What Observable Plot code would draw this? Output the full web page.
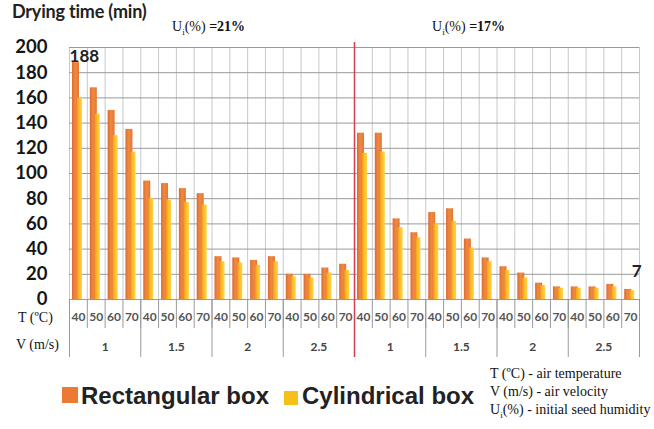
<!DOCTYPE html>
<html>
<head>
<meta charset="utf-8">
<script src="https://cdn.jsdelivr.net/npm/d3@7"></script>
<script src="https://cdn.jsdelivr.net/npm/@observablehq/plot@0.6"></script>
<style>
  html, body { margin: 0; padding: 0; background: #fff; }
  #wrap { position: relative; width: 654px; height: 429px; overflow: hidden; }
  #wrap svg { position: absolute; left: 0; top: 0; }
  .abs { position: absolute; white-space: nowrap; }
  .serif { font-family: "Liberation Serif", "DejaVu Serif", serif; font-size: 14px; line-height: 14px; color: #111; }
  .serif sub { font-size: 9px; vertical-align: -4px; line-height: 0; }
  .title { font-family: Lato, "Open Sans", sans-serif; font-weight: 700; font-size: 18px; line-height: 18px; color: #222; letter-spacing: -0.2px; }
  .leg { font-family: "Liberation Sans", Arial, sans-serif; font-weight: 700; font-size: 24px; line-height: 24px; color: #222; }
  .sq { position: absolute; }
</style>
</head>
<body>
<div id="wrap"></div>
<script>
// ---- data ----
const humidities = ["21%", "17%"];
const velocities = ["1", "1.5", "2", "2.5"];
const temperatures = ["40", "50", "60", "70"];
const yTicks = [0, 20, 40, 60, 80, 100, 120, 140, 160, 180, 200];
// drying time (min), order: humidity > velocity > temperature
const rectangular = [188, 168, 150, 135, 94, 92, 88, 84, 34, 33, 31, 34, 20, 20, 25, 28,
                     132, 132, 64, 53, 69, 72, 48, 33, 26, 21, 13, 10, 10, 10, 12, 8];
const cylindrical = [160, 147, 130, 117, 80, 79, 77, 75, 30, 29, 27, 30, 18, 17, 21, 23,
                     116, 117, 57, 49, 60, 62, 41, 30, 23, 17, 11, 9, 9, 9, 10, 7];

const nGroups = humidities.length * velocities.length * temperatures.length;
const data = rectangular.map((r, i) => ({
  i,
  humidity: humidities[Math.floor(i / 16)],
  velocity: velocities[Math.floor(i / 4) % 4],
  temperature: temperatures[i % 4],
  rect: r,
  cyl: cylindrical[i]
}));
const boundaries = d3.range(nGroups + 1);
const velBoundaries = boundaries.filter(d => d % 4 === 0);
const tempCenters = d3.range(nGroups).map(d => d + 0.5);
const velCenters = d3.range(nGroups / 4).map(d => d * 4 + 2);

const chart = Plot.plot({
  width: 654,
  height: 362,
  marginLeft: 69,
  marginRight: 15,
  marginTop: 47,
  marginBottom: 63,
  style: { background: "transparent", overflow: "visible" },
  x: { domain: [0, nGroups], axis: null },
  y: { domain: [0, 200], axis: null },
  marks: [
    Plot.gridX(boundaries, { stroke: "#c9c9c9", strokeOpacity: 1 }),
    Plot.gridY(yTicks, { stroke: "#9a9a9a", strokeOpacity: 1 }),
    Plot.rectY(data, { x1: "i", x2: d => d.i + 1, y: "rect", insetLeft: 3, insetRight: 7.8, fill: "url(#gRect)" }),
    Plot.rectY(data, { x1: "i", x2: d => d.i + 1, y: "cyl", insetLeft: 8, insetRight: 4.8, fill: "url(#gCyl)" }),
    Plot.axisY({ ticks: yTicks, tickSize: 0, tickPadding: 22, fontSize: 18.5, fontWeight: "bold", fill: "#151515", label: null, fontFamily: "Lato, sans-serif" }),
    Plot.axisX({ ticks: boundaries, tickSize: 29, tickFormat: () => "", stroke: "#9a9a9a", label: null }),
    Plot.axisX({ ticks: velBoundaries, tickSize: 58, tickFormat: () => "", stroke: "#9a9a9a", label: null }),
    Plot.axisX({ ticks: tempCenters, tickSize: 0, tickPadding: 13, tickFormat: d => temperatures[Math.floor(d) % 4], fontSize: 12, fontWeight: "bold", fill: "#555", label: null, fontFamily: "Lato, sans-serif" }),
    Plot.axisX({ ticks: velCenters, tickSize: 0, tickPadding: 43, tickFormat: d => velocities[Math.floor(d / 4) % 4], fontSize: 12, fontWeight: "bold", fill: "#444", label: null, fontFamily: "Lato, sans-serif" }),
    Plot.ruleX([nGroups / 2], { stroke: "#d2404f", strokeWidth: 1.5, insetTop: -5, insetBottom: -58 }),
    Plot.text([data[0]], { x: d => d.i + 0.5, y: "rect", text: d => String(d.rect), dx: 6, dy: -1, lineAnchor: "bottom", fontSize: 17, fontWeight: "bold", fill: "#222", fontFamily: "Lato, sans-serif" }),
    Plot.text([data[nGroups - 1]], { x: d => d.i + 0.5, y: "cyl", text: d => String(d.cyl), dx: 6, dy: -14, lineAnchor: "bottom", fontSize: 17, fontWeight: "bold", fill: "#222", fontFamily: "Lato, sans-serif" })
  ]
});

// gradients for bars
const ns = "http://www.w3.org/2000/svg";
const defs = document.createElementNS(ns, "defs");
function grad(id, stops) {
  const g = document.createElementNS(ns, "linearGradient");
  g.setAttribute("id", id);
  g.setAttribute("x1", "0"); g.setAttribute("x2", "1");
  g.setAttribute("y1", "0"); g.setAttribute("y2", "0");
  stops.forEach(([o, c]) => {
    const s = document.createElementNS(ns, "stop");
    s.setAttribute("offset", o); s.setAttribute("stop-color", c);
    g.appendChild(s);
  });
  defs.appendChild(g);
}
grad("gRect", [[0, "#dc6a33"], [0.45, "#ef8a3e"], [1, "#e57634"]]);
grad("gCyl", [[0, "#f39a1e"], [0.5, "#ffc02a"], [1, "#ffd447"]]);
chart.insertBefore(defs, chart.firstChild);

const wrap = document.getElementById("wrap");
wrap.appendChild(chart);

function addHTML(html, cls, left, top) {
  const d = document.createElement("div");
  d.className = "abs " + cls;
  d.style.left = left + "px";
  d.style.top = top + "px";
  d.innerHTML = html;
  wrap.appendChild(d);
  return d;
}
addHTML("Drying time (min)", "title", 12, 2);
addHTML("U<sub>i</sub>(%) <b>=" + humidities[0] + "</b>", "serif", 172, 20);
addHTML("U<sub>i</sub>(%) <b>=" + humidities[1] + "</b>", "serif", 432, 20);
addHTML("T (ºC)", "serif", 18, 311);
addHTML("V (m/s)", "serif", 16, 338);

// legend
const sq1 = document.createElement("div");
sq1.className = "sq"; Object.assign(sq1.style, { left: "62px", top: "387px", width: "16px", height: "16px", background: "#ec7a33" });
wrap.appendChild(sq1);
addHTML("Rectangular box", "leg", 81, 384);
const sq2 = document.createElement("div");
sq2.className = "sq"; Object.assign(sq2.style, { left: "284px", top: "391px", width: "14px", height: "14px", background: "#f5c018" });
wrap.appendChild(sq2);
addHTML("Cylindrical box", "leg", 302, 384);
const notes = addHTML("T (ºC) - air temperature<br>V (m/s) - air velocity<br>U<sub>i</sub>(%) - initial seed humidity", "serif", 490, 365);
notes.style.lineHeight = "18px";
</script>
</body>
</html>
